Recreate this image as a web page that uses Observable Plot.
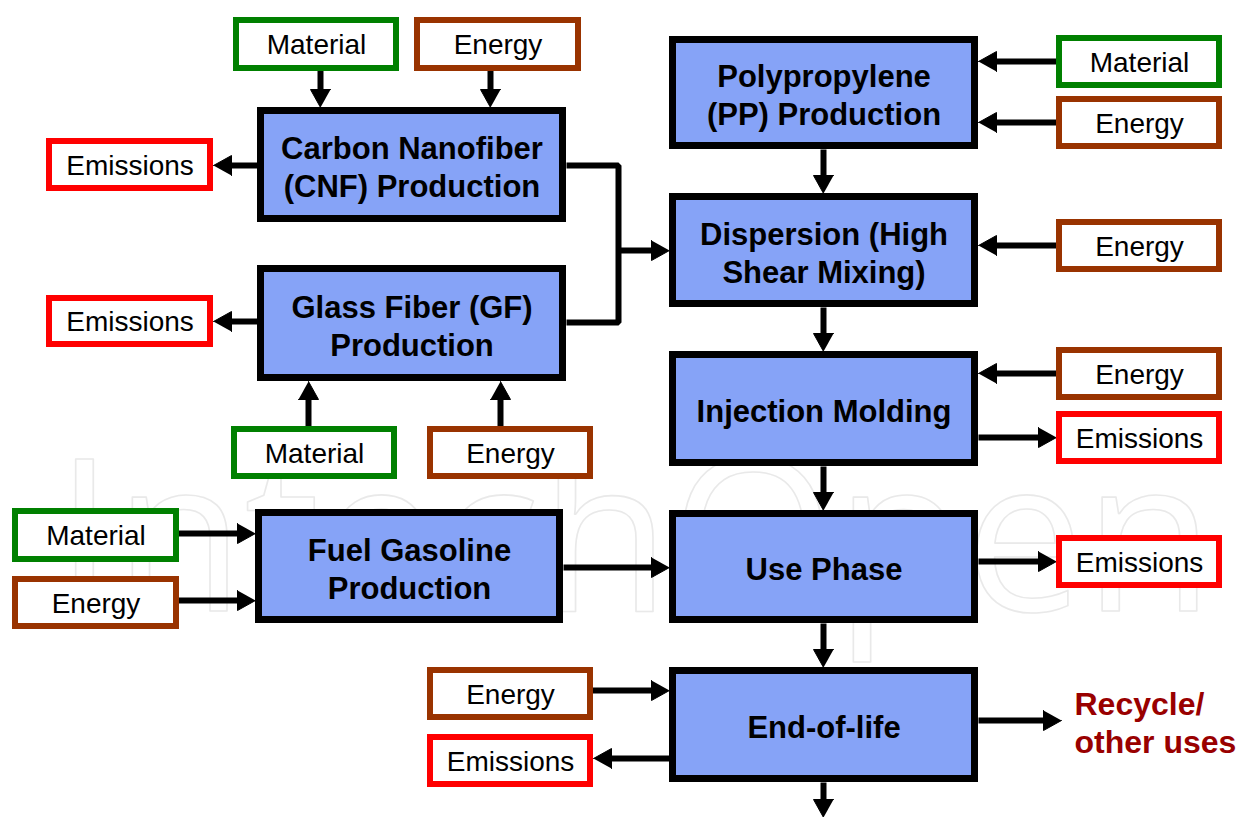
<!DOCTYPE html>
<html>
<head>
<meta charset="utf-8">
<script src="https://cdn.jsdelivr.net/npm/d3@7"></script>
<script src="https://cdn.jsdelivr.net/npm/@observablehq/plot@0.6"></script>
<style>
  html, body { margin: 0; padding: 0; background: #ffffff; overflow: hidden; }
  svg { display: block; }
</style>
</head>
<body>
<div id="chart"></div>
<script>
// Process steps (blue boxes): label and outer edges
const processes = [
  {label: "Carbon Nanofiber\n(CNF) Production", x1: 257, x2: 566, y1: 107, y2: 222},
  {label: "Glass Fiber (GF)\nProduction",       x1: 257, x2: 566, y1: 265, y2: 381},
  {label: "Polypropylene\n(PP) Production",     x1: 669, x2: 978, y1: 36,  y2: 149},
  {label: "Dispersion (High\nShear Mixing)",    x1: 669, x2: 978, y1: 193, y2: 307},
  {label: "Injection Molding",                  x1: 669, x2: 978, y1: 351, y2: 466},
  {label: "Fuel Gasoline\nProduction",          x1: 255, x2: 563, y1: 509, y2: 623},
  {label: "Use Phase",                          x1: 669, x2: 978, y1: 510, y2: 623},
  {label: "End-of-life",                        x1: 669, x2: 978, y1: 667, y2: 782}
];

// Inputs / outputs (white boxes with coloured borders)
const flows = [
  {label: "Material",  kind: "material",  x1: 233,  x2: 399,  y1: 17,  y2: 71},
  {label: "Energy",    kind: "energy",    x1: 414,  x2: 581,  y1: 17,  y2: 71},
  {label: "Emissions", kind: "emissions", x1: 46,   x2: 213,  y1: 138, y2: 191},
  {label: "Emissions", kind: "emissions", x1: 46,   x2: 213,  y1: 295, y2: 347},
  {label: "Material",  kind: "material",  x1: 231,  x2: 397,  y1: 426, y2: 479},
  {label: "Energy",    kind: "energy",    x1: 427,  x2: 593,  y1: 426, y2: 479},
  {label: "Material",  kind: "material",  x1: 1056, x2: 1222, y1: 35,  y2: 88},
  {label: "Energy",    kind: "energy",    x1: 1056, x2: 1222, y1: 96,  y2: 149},
  {label: "Energy",    kind: "energy",    x1: 1056, x2: 1222, y1: 219, y2: 272},
  {label: "Energy",    kind: "energy",    x1: 1056, x2: 1222, y1: 347, y2: 400},
  {label: "Emissions", kind: "emissions", x1: 1056, x2: 1222, y1: 411, y2: 464},
  {label: "Emissions", kind: "emissions", x1: 1056, x2: 1222, y1: 535, y2: 588},
  {label: "Material",  kind: "material",  x1: 12,   x2: 179,  y1: 508, y2: 562},
  {label: "Energy",    kind: "energy",    x1: 12,   x2: 179,  y1: 576, y2: 629},
  {label: "Energy",    kind: "energy",    x1: 427,  x2: 593,  y1: 667, y2: 720},
  {label: "Emissions", kind: "emissions", x1: 427,  x2: 593,  y1: 734, y2: 787}
];

const flowKinds = ["material", "energy", "emissions"];
const flowColors = ["#008000", "#993300", "#ff0000"];

// Arrows: from (x1,y1) to tip (x2,y2)
const arrows = [
  {x1: 320,  y1: 68,  x2: 320,  y2: 107},
  {x1: 490,  y1: 68,  x2: 490,  y2: 107},
  {x1: 257,  y1: 165, x2: 213,  y2: 165},
  {x1: 257,  y1: 321, x2: 213,  y2: 321},
  {x1: 308,  y1: 429, x2: 308,  y2: 381},
  {x1: 500,  y1: 429, x2: 500,  y2: 381},
  {x1: 618,  y1: 250, x2: 669,  y2: 250},
  {x1: 1058, y1: 61,  x2: 978,  y2: 61},
  {x1: 1058, y1: 122, x2: 978,  y2: 122},
  {x1: 823,  y1: 149, x2: 823,  y2: 193},
  {x1: 1058, y1: 245, x2: 978,  y2: 245},
  {x1: 823,  y1: 307, x2: 823,  y2: 351},
  {x1: 1058, y1: 373, x2: 978,  y2: 373},
  {x1: 978,  y1: 437, x2: 1056, y2: 437},
  {x1: 823,  y1: 466, x2: 823,  y2: 510},
  {x1: 978,  y1: 561, x2: 1056, y2: 561},
  {x1: 563,  y1: 567, x2: 669,  y2: 567},
  {x1: 177,  y1: 533, x2: 255,  y2: 533},
  {x1: 177,  y1: 600, x2: 255,  y2: 600},
  {x1: 823,  y1: 623, x2: 823,  y2: 667},
  {x1: 591,  y1: 690, x2: 669,  y2: 690},
  {x1: 669,  y1: 758, x2: 593,  y2: 758},
  {x1: 978,  y1: 720, x2: 1061, y2: 720},
  {x1: 823,  y1: 782, x2: 823,  y2: 817}
];

// Connector joining CNF and GF outputs
const connector = [
  {x: 566, y: 165}, {x: 618, y: 165}, {x: 618, y: 322}, {x: 566, y: 322}
];

const outcomeLabel = ["Recycle/\nother uses"];
const outcomePos = [{x: 1074, y: 721}];

const watermark = ["IntechOpen"];

// ---- derived geometry for arrow heads ----
const HEAD_LEN = 18, HEAD_HALF = 10;
const shafts = [];
const heads = [];
arrows.forEach((a, i) => {
  const dx = a.x2 - a.x1, dy = a.y2 - a.y1;
  const len = Math.hypot(dx, dy);
  const ux = dx / len, uy = dy / len;
  const bx = a.x2 - ux * HEAD_LEN, by = a.y2 - uy * HEAD_LEN;
  shafts.push({x1: a.x1, y1: a.y1, x2: bx + ux * 2, y2: by + uy * 2});
  const nx = -uy, ny = ux;
  heads.push({id: i, x: a.x2, y: a.y2});
  heads.push({id: i, x: bx + nx * HEAD_HALF, y: by + ny * HEAD_HALF});
  heads.push({id: i, x: bx - nx * HEAD_HALF, y: by - ny * HEAD_HALF});
});

const font = "'Liberation Sans', Arial, Helvetica, sans-serif";
const PB = 7;  // process border
const FB = 6;  // flow border

const chart = Plot.plot({
  width: 1243,
  height: 817,
  margin: 0,
  style: {background: "#ffffff", fontFamily: font},
  x: {domain: [0, 1243], range: [0, 1243], axis: null},
  y: {domain: [0, 817], range: [0, 817], axis: null},
  color: {domain: flowKinds, range: flowColors},
  marks: [
    // watermark
    Plot.text(watermark, {
      x: () => 634, y: () => 543, text: d => d,
      fontSize: 212, fontFamily: "'Open Sans', 'DejaVu Sans', sans-serif",
      fill: "none", stroke: "#e9e9e9", strokeWidth: 1.6, textAnchor: "middle", lineAnchor: "middle"
    }),
    // connector
    Plot.line(connector, {x: "x", y: "y", stroke: "black", strokeWidth: 6, strokeLinejoin: "miter", strokeLinecap: "butt"}),
    // arrow shafts and heads
    Plot.link(shafts, {x1: "x1", y1: "y1", x2: "x2", y2: "y2", stroke: "black", strokeWidth: 6, strokeLinecap: "butt"}),
    Plot.line(heads, {x: "x", y: "y", z: "id", fill: "black", stroke: "black", strokeWidth: 1, strokeLinejoin: "miter"}),
    // process boxes
    Plot.rect(processes, {
      x1: "x1", x2: "x2", y1: "y1", y2: "y2",
      fill: "#86a3f7", stroke: "black", strokeWidth: PB, inset: PB / 2
    }),
    Plot.text(processes, {
      x: d => (d.x1 + d.x2) / 2, y: d => (d.y1 + d.y2) / 2 + 1, text: "label",
      fontSize: 31, fontWeight: "bold", fill: "black", lineHeight: 1.23,
      textAnchor: "middle", lineAnchor: "middle", fontFamily: font
    }),
    // flow boxes
    Plot.rect(flows, {
      x1: "x1", x2: "x2", y1: "y1", y2: "y2",
      fill: "white", stroke: "kind", strokeWidth: FB, inset: FB / 2
    }),
    Plot.text(flows, {
      x: d => (d.x1 + d.x2) / 2, y: d => (d.y1 + d.y2) / 2 + 1, text: "label",
      fontSize: 28, fill: "black", textAnchor: "middle", lineAnchor: "middle", fontFamily: font
    }),
    // outcome label
    Plot.text(outcomeLabel, {
      x: (d, i) => outcomePos[i].x, y: (d, i) => outcomePos[i].y, text: d => d,
      fontSize: 32, fontWeight: "bold", fill: "#990000", lineHeight: 1.2,
      textAnchor: "start", lineAnchor: "middle", fontFamily: font
    })
  ]
});

document.getElementById("chart").appendChild(chart);
</script>
</body>
</html>
